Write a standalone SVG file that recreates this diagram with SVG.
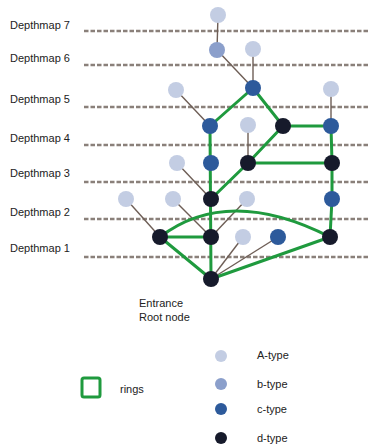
<svg xmlns="http://www.w3.org/2000/svg" width="368" height="446" viewBox="0 0 368 446">
<style>
text{font-family:"Liberation Sans",Arial,sans-serif;font-size:11px;fill:#222}
.dash{stroke:#8a807a;stroke-width:2.4;stroke-dasharray:4.5 2;fill:none}
.thin{stroke:#6e5e56;stroke-width:1.4;fill:none}
.ring{stroke:#1f9a3e;stroke-width:3;fill:none;stroke-linejoin:round;stroke-linecap:round}
.A{fill:#c3cde3}
.B{fill:#8b9fcb}
.C{fill:#2d5a9b}
.D{fill:#161a2b}
</style>
<rect width="368" height="446" fill="#ffffff"/>
<g id="levels">
<line class="dash" x1="84" y1="31" x2="368" y2="31"/>
<line class="dash" x1="84" y1="65" x2="368" y2="65"/>
<line class="dash" x1="84" y1="107" x2="368" y2="107"/>
<line class="dash" x1="84" y1="145" x2="368" y2="145"/>
<line class="dash" x1="84" y1="182" x2="368" y2="182"/>
<line class="dash" x1="84" y1="219" x2="368" y2="219"/>
<line class="dash" x1="84" y1="257" x2="368" y2="257"/>
<text x="10" y="29">Depthmap 7</text>
<text x="10" y="62">Depthmap 6</text>
<text x="10" y="103">Depthmap 5</text>
<text x="10" y="142">Depthmap 4</text>
<text x="10" y="177">Depthmap 3</text>
<text x="10" y="216">Depthmap 2</text>
<text x="10" y="252">Depthmap 1</text>
</g>
<g id="connectors">
<line class="thin" x1="218" y1="15" x2="217" y2="50"/>
<line class="thin" x1="217" y1="50" x2="253" y2="88"/>
<line class="thin" x1="253" y1="49" x2="253" y2="88"/>
<line class="thin" x1="176" y1="90" x2="210" y2="126"/>
<line class="thin" x1="331" y1="89" x2="331" y2="126"/>
<line class="thin" x1="248" y1="125" x2="248" y2="163"/>
<line class="thin" x1="177" y1="163" x2="211" y2="199"/>
<line class="thin" x1="126" y1="199" x2="160" y2="237"/>
<line class="thin" x1="173" y1="199" x2="211" y2="237"/>
<line class="thin" x1="247" y1="199" x2="211" y2="237"/>
<line class="thin" x1="211" y1="279" x2="243" y2="237"/>
<line class="thin" x1="211" y1="279" x2="278" y2="237"/>
<polyline class="ring" points="210,126 253,88 283,126 331,126 332,163 332,199 330,237"/>
<line class="ring" x1="210" y1="126" x2="211" y2="279"/>
<polyline class="ring" points="283,126 248,163 211,199"/>
<line class="ring" x1="248" y1="163" x2="332" y2="163"/>
<polyline class="ring" points="211,237 160,237 211,279 330,237"/>
<path class="ring" d="M160,237 Q228,185 330,237"/>
</g>
<g id="nodes">
<g id="n7a"><circle class="A" cx="218" cy="15" r="8"/></g>
<g id="n6b"><circle class="B" cx="217" cy="50" r="8"/></g>
<g id="n6a"><circle class="A" cx="253" cy="49" r="8"/></g>
<g id="n5a1"><circle class="A" cx="176" cy="90" r="8"/></g>
<g id="n5c"><circle class="C" cx="253" cy="88" r="8"/></g>
<g id="n5a2"><circle class="A" cx="331" cy="89" r="8"/></g>
<g id="n4c1"><circle class="C" cx="210" cy="126" r="8"/></g>
<g id="n4a"><circle class="A" cx="248" cy="125" r="8"/></g>
<g id="n4d"><circle class="D" cx="283" cy="126" r="8"/></g>
<g id="n4c2"><circle class="C" cx="331" cy="126" r="8"/></g>
<g id="n3a"><circle class="A" cx="177" cy="163" r="8"/></g>
<g id="n3c"><circle class="C" cx="211" cy="163" r="8"/></g>
<g id="n3d1"><circle class="D" cx="248" cy="163" r="8"/></g>
<g id="n3d2"><circle class="D" cx="332" cy="163" r="8"/></g>
<g id="n2a1"><circle class="A" cx="126" cy="199" r="8"/></g>
<g id="n2a2"><circle class="A" cx="173" cy="199" r="8"/></g>
<g id="n2d"><circle class="D" cx="211" cy="199" r="8"/></g>
<g id="n2a3"><circle class="A" cx="247" cy="199" r="8"/></g>
<g id="n2c"><circle class="C" cx="332" cy="199" r="8"/></g>
<g id="n1d1"><circle class="D" cx="160" cy="237" r="8"/></g>
<g id="n1d2"><circle class="D" cx="211" cy="237" r="8"/></g>
<g id="n1a"><circle class="A" cx="243" cy="237" r="8"/></g>
<g id="n1c"><circle class="C" cx="278" cy="237" r="8"/></g>
<g id="n1d3"><circle class="D" cx="330" cy="237" r="8"/></g>
<g id="root"><circle class="D" cx="211" cy="279" r="8"/></g>
</g>
<g id="rootlabel">
<text x="139" y="307">Entrance</text>
<text x="139" y="321">Root node</text>
</g>
<g id="legend">
<rect x="82" y="378" width="18" height="19" rx="2" fill="none" stroke="#1f9a3e" stroke-width="3"/>
<text x="120" y="393">rings</text>
<circle class="A" cx="221" cy="356" r="6"/>
<circle class="B" cx="221" cy="384" r="6"/>
<circle class="C" cx="221" cy="409" r="6"/>
<circle class="D" cx="221" cy="438" r="6"/>
<text x="257" y="359">A-type</text>
<text x="257" y="388">b-type</text>
<text x="257" y="413">c-type</text>
<text x="257" y="442">d-type</text>
</g>
</svg>
